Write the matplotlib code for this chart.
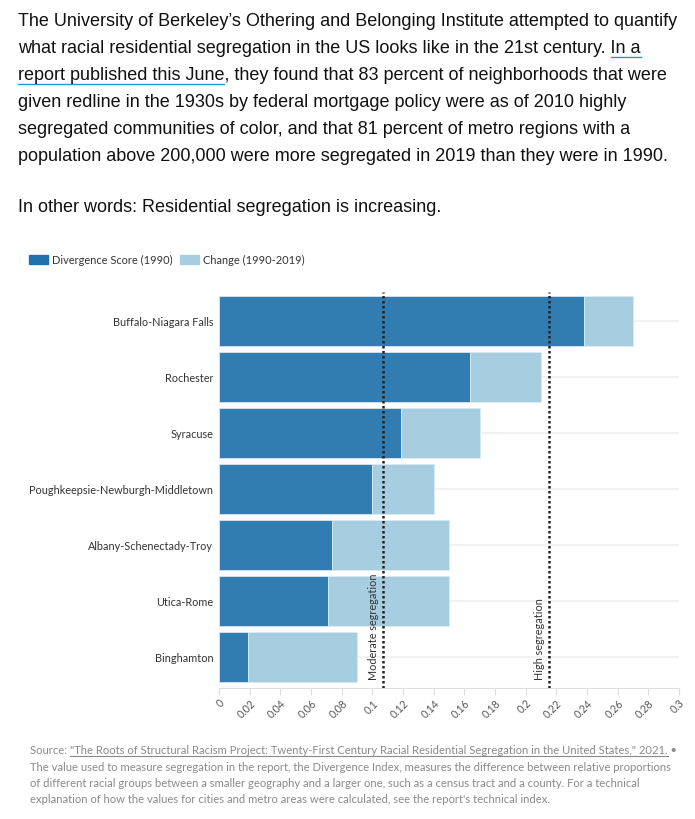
import numpy as np
import matplotlib.pyplot as plt
from matplotlib.patches import Rectangle
from matplotlib.lines import Line2D

# data
metros = ["Buffalo-Niagara Falls", "Rochester", "Syracuse",
          "Poughkeepsie-Newburgh-Middletown", "Albany-Schenectady-Troy",
          "Utica-Rome", "Binghamton"]
score_1990 = [0.238, 0.164, 0.119, 0.100, 0.074, 0.071, 0.019]
change = [0.032, 0.046, 0.051, 0.040, 0.076, 0.079, 0.071]
thresholds = [0.107, 0.215]
threshold_labels = ["Moderate segregation", "High segregation"]
xticks = [0, 0.02, 0.04, 0.06, 0.08, 0.1, 0.12, 0.14, 0.16, 0.18,
          0.2, 0.22, 0.24, 0.26, 0.28, 0.3]
xtick_labels = ["0", "0.02", "0.04", "0.06", "0.08", "0.1", "0.12", "0.14",
                "0.16", "0.18", "0.2", "0.22", "0.24", "0.26", "0.28", "0.3"]
legend_labels = ["Divergence Score (1990)", "Change (1990-2019)"]

para = [
    "The University of Berkeley\u2019s Othering and Belonging Institute attempted to quantify",
    "what racial residential segregation in the US looks like in the 21st century. In a",
    "report published this June, they found that 83 percent of neighborhoods that were",
    "given redline in the 1930s by federal mortgage policy were as of 2010 highly",
    "segregated communities of color, and that 81 percent of metro regions with a",
    "population above 200,000 were more segregated in 2019 than they were in 1990.",
]
para2 = "In other words: Residential segregation is increasing."
footer = [
    'Source: "The Roots of Structural Racism Project: Twenty-First Century Racial Residential Segregation in the United States," 2021. \u2022',
    "The value used to measure segregation in the report, the Divergence Index, measures the difference between relative proportions",
    "of different racial groups between a smaller geography and a larger one, such as a census tract and a county. For a technical",
    "explanation of how the values for cities and metro areas were calculated, see the report's technical index.",
]

DARK = "#317db2"
LIGHT = "#a6cde0"
W, H = 695, 819

def fx(px):
    return px / W

def fy(py):
    return 1 - py / H

fig = plt.figure(figsize=(W / 100, H / 100), dpi=100)
renderer = fig.canvas.get_renderer()

def text_w(s, **kw):
    t = fig.text(0, 0, s, **kw)
    w = t.get_window_extent(renderer).width
    t.remove()
    return w

# --- paragraph ---
pfont = dict(family="Liberation Sans", fontsize=13.0, color="#111111")
baselines = [26, 53, 80, 107, 134, 161]
for line, b in zip(para, baselines):
    fig.text(fx(18), fy(b), line, va="baseline", ha="left", **pfont)
fig.text(fx(18), fy(212), para2, va="baseline", ha="left", **pfont)

# underline for the link
blue = "#1a9bd7"
full2 = text_w(para[1], **pfont)
ina = text_w("In a", **pfont)
fig.add_artist(Line2D([fx(18 + full2 - ina), fx(18 + full2)], [fy(57), fy(57)],
                      color=blue, lw=1, transform=fig.transFigure))
rep = text_w("report published this June", **pfont)
fig.add_artist(Line2D([fx(18), fx(18 + rep)], [fy(84), fy(84)],
                      color=blue, lw=1, transform=fig.transFigure))

# --- legend ---
lfont = dict(family="Lato", fontsize=7.9, color="#333333")
fig.add_artist(Rectangle((fx(29), fy(264)), 19 / W, 9 / H, color="#2070ab",
                         transform=fig.transFigure))
fig.text(fx(52), fy(260), legend_labels[0], va="center", ha="left", **lfont)
fig.add_artist(Rectangle((fx(180), fy(264)), 19 / W, 9 / H, color=LIGHT,
                         transform=fig.transFigure))
fig.text(fx(203), fy(260), legend_labels[1], va="center", ha="left", **lfont)

# --- chart ---
ax = fig.add_axes([fx(219), fy(688), 460 / W, 396 / H])
y = np.arange(len(metros))
for yi in y:
    ax.axhline(yi, color="#f0f0f0", lw=1.2, zorder=0)
ax.barh(y, score_1990, height=0.89, color=DARK, edgecolor="#d6e6f1", linewidth=0.6, zorder=2)
ax.barh(y, change, left=score_1990, height=0.89, color=LIGHT, edgecolor="#d9ebf3",
        linewidth=0.6, zorder=2)

for t, lab in zip(thresholds, threshold_labels):
    ax.axvline(t, color="#222222", ls=(0, (1, 1)), lw=1.8, zorder=3)
    ax.text(t - 0.0025, 6.41, lab, rotation=90, ha="right", va="bottom",
            family="Lato", fontsize=7.8, color="#333333", zorder=4)

ax.set_xlim(0, 0.3)
ax.set_ylim(6.55, -0.52)
ax.set_xticks(xticks, xtick_labels)
ax.set_yticks(y, metros)
for s in ["top", "right", "left"]:
    ax.spines[s].set_visible(False)
ax.spines["bottom"].set_color("#dddddd")
ax.tick_params(axis="x", length=5, color="#dddddd", labelcolor="#555555",
               labelsize=7.6, pad=2)
ax.tick_params(axis="y", length=0, pad=4, labelcolor="#333333", labelsize=7.8)
for lab in ax.get_xticklabels():
    lab.set_rotation(45)
    lab.set_ha("right")
    lab.set_rotation_mode("anchor")
    lab.set_family("Lato")
for lab in ax.get_yticklabels():
    lab.set_family("Lato")

# --- footer ---
ffont = dict(family="Lato", fontsize=8.1, color="#8a8a8a")
fbase = [754, 771, 787, 803]
for line, b in zip(footer, fbase):
    fig.text(fx(30), fy(b), line, va="baseline", ha="left", **ffont)
lw_ = text_w('Source: "The Roots of Structural Racism Project: Twenty-First Century Racial Residential Segregation in the United States," 2021.', **ffont)
fig.add_artist(Line2D([fx(30 + text_w("Source:", **ffont) + 3), fx(30 + lw_)], [fy(756), fy(756)],
                      color="#8a8a8a", lw=0.8, transform=fig.transFigure))

fig.savefig("out.png", dpi=100)
